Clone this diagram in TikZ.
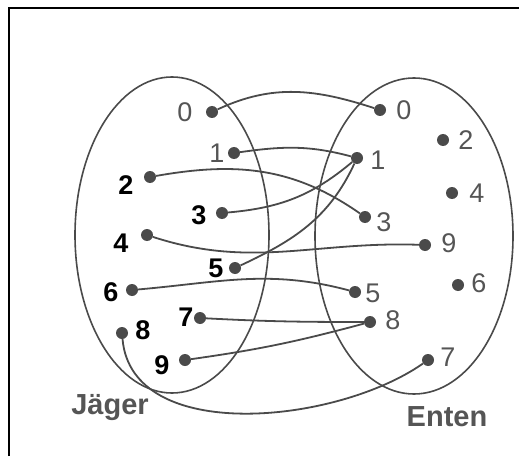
\documentclass[tikz,border=0pt]{standalone}
\usepackage{fontspec}
\setmainfont{Liberation Sans}
\usepackage{xcolor}
\definecolor{stift}{HTML}{4A4A4A}
\definecolor{grau}{HTML}{555555}

\begin{document}
\begin{tikzpicture}[x=1pt,y=1pt,
  menge/.style={draw=stift,line width=1.6pt},
  punkt/.style={circle,fill=stift,inner sep=0pt,minimum size=12pt},
  jzahl/.style={font=\fontsize{27}{30}\selectfont\bfseries,text=black,inner sep=0pt},
  jzahlg/.style={font=\fontsize{27}{30}\selectfont,text=grau,inner sep=0pt},
  ezahl/.style={font=\fontsize{27}{30}\selectfont,text=grau,inner sep=0pt},
  titel/.style={font=\fontsize{29}{32}\selectfont\bfseries,text=grau,inner sep=0pt},
  pfeil/.style={draw=stift,line width=1.8pt}
]
\useasboundingbox (0,0) rectangle (519,456);
\draw[line width=2.5pt] (9,0) -- (9,448) -- (519,448);

% the two sets
\draw[menge] (172,221) ellipse [x radius=97pt,y radius=158pt];
\draw[menge] (414,220) ellipse [x radius=99pt,y radius=158pt];

% Jaeger
\node[punkt] (j0) at (212,344) {};
\node[punkt] (j1) at (234,303) {};
\node[punkt] (j2) at (150,279) {};
\node[punkt] (j3) at (222,243) {};
\node[punkt] (j4) at (147,221) {};
\node[punkt] (j5) at (235,188) {};
\node[punkt] (j6) at (132,166) {};
\node[punkt] (j7) at (200,138) {};
\node[punkt] (j8) at (122,123) {};
\node[punkt] (j9) at (185,96) {};
\node[jzahlg] (lj0) at (185,344) {0};
\node[jzahlg] (lj1) at (217,303) {1};
\node[jzahl] (lj2) at (126,271) {2};
\node[jzahl] (lj3) at (199,241) {3};
\node[jzahl] (lj4) at (121,213) {4};
\node[jzahl] (lj5) at (216,188) {5};
\node[jzahl] (lj6) at (111,164) {6};
\node[jzahl] (lj7) at (186,139) {7};
\node[jzahl] (lj8) at (143,126) {8};
\node[jzahl] (lj9) at (162,91) {9};

% Enten
\node[punkt] (e0) at (380,346) {};
\node[punkt] (e1) at (357,298) {};
\node[punkt] (e2) at (443,316) {};
\node[punkt] (e3) at (365,239) {};
\node[punkt] (e4) at (452,263) {};
\node[punkt] (e9) at (425,211) {};
\node[punkt] (e6) at (458,171) {};
\node[punkt] (e5) at (355,164) {};
\node[punkt] (e8) at (370,134) {};
\node[punkt] (e7) at (428,96) {};
\node[ezahl] (le0) at (404,346) {0};
\node[ezahl] (le1) at (378,296) {1};
\node[ezahl] (le2) at (466,316) {2};
\node[ezahl] (le4) at (477,263) {4};
\node[ezahl] (le3) at (384,234) {3};
\node[ezahl] (le9) at (449,213) {9};
\node[ezahl] (le6) at (479,173) {6};
\node[ezahl] (le5) at (373,163) {5};
\node[ezahl] (le8) at (393,136) {8};
\node[ezahl] (le7) at (448,99) {7};

\node[titel] (jaeger) at (110,48) {Jäger};
\node[titel] (enten) at (447,39) {Enten};

% wer schiesst auf wen
\draw[pfeil] (j0) to[out=25,in=162] (e0);
\draw[pfeil] (j1) to[out=8,in=165] (e1);
\draw[pfeil] (j2) to[out=10,in=145] (e3);
\draw[pfeil] (j3) to[out=5,in=220] (e1);
\draw[pfeil] (j5) to[out=25,in=245] (e1);
\draw[pfeil] (j4) to[out=-18,in=178] (e9);
\draw[pfeil] (j6) to[out=5,in=165] (e5);
\draw[pfeil] (j7) to[out=-3,in=180] (e8);
\draw[pfeil] (j9) to[out=8,in=195] (e8);
\draw[pfeil] (j8) to[out=-85,in=215,looseness=0.9] (e7);
\end{tikzpicture}
\end{document}
